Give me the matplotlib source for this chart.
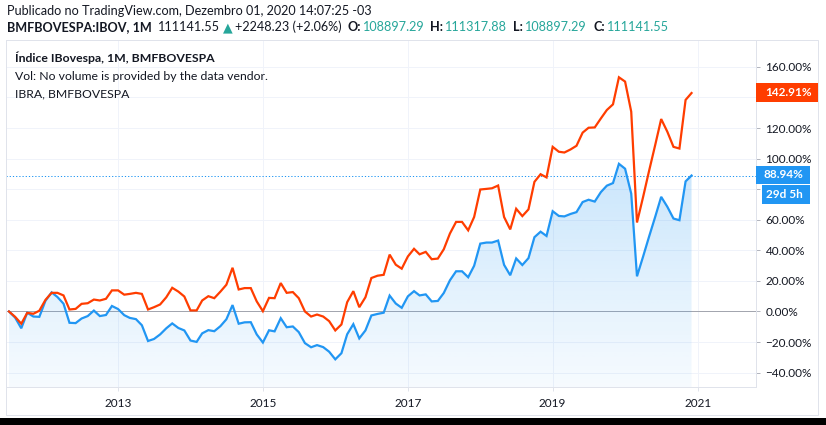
import numpy as np
import pandas as pd
import matplotlib
matplotlib.use("Agg")
import matplotlib.pyplot as plt
import matplotlib.dates as mdates
from matplotlib.patches import Rectangle

plt.rcParams['font.family'] = ['Lato', 'DejaVu Sans']

# ---------------------------
# Data: monthly % change vs. Jul 2011 close
# ---------------------------
start_month = '2011-07-01'

ibov_pct = [0.0, -4.0, -11.0, -0.8, -3.3, -3.5,
            7.0, 12.5, 9.5, 5.1, -7.4, -7.6, -4.6, -3.0, 0.6, -3.0, -2.3, 3.6,
            1.6, -2.4, -4.2, -5.0, -9.0, -19.3, -18.0, -15.0, -11.0, -7.8, -10.8, -12.4,
            -19.0, -19.9, -14.3, -12.2, -12.9, -9.6, -5.1, 4.2, -8.0, -7.1, -7.0, -15.0,
            -20.3, -12.3, -13.0, -4.4, -10.3, -9.8, -13.5, -20.7, -23.4, -22.0, -23.3, -26.3,
            -31.3, -27.3, -14.9, -8.3, -17.6, -12.4, -2.6, -1.6, -0.8, 10.4, 5.2, 2.4,
            9.9, 13.3, 10.5, 11.2, 6.6, 6.9, 12.1, 20.4, 26.3, 26.3, 22.4, 29.9,
            44.4, 45.1, 45.1, 46.4, 30.5, 23.7, 34.7, 30.4, 34.9, 48.6, 52.2, 49.4,
            65.6, 62.5, 62.2, 63.8, 65.0, 71.6, 73.1, 71.9, 78.1, 82.3, 84.0, 96.6,
            93.4, 77.1, 23.0, 36.0, 49.0, 62.0, 75.0, 68.5, 60.8, 59.7, 85.1, 88.94]

ibra_pct = [0.0, -3.5, -8.0, -0.9, -1.5, 0.5,
            7.6, 12.2, 12.2, 10.5, 1.3, 1.7, 5.0, 5.4, 7.8, 7.2, 8.3, 13.8,
            13.8, 11.0, 11.5, 12.2, 11.5, 1.3, 2.8, 4.6, 9.3, 15.5, 13.0, 9.8,
            0.7, 0.7, 7.2, 10.0, 8.7, 13.0, 17.5, 28.6, 14.4, 15.3, 15.3, 6.6,
            0.2, 8.9, 8.7, 18.6, 12.2, 12.7, 8.7, 0.0, -3.3, -2.0, -3.3, -6.3,
            -12.4, -8.5, 6.1, 13.3, 2.8, 9.3, 21.9, 23.4, 24.0, 37.2, 30.6, 28.0,
            36.0, 41.0, 37.4, 39.0, 34.2, 34.6, 40.7, 51.0, 58.6, 58.6, 53.1, 61.8,
            79.8, 80.2, 80.6, 82.4, 61.8, 53.7, 67.2, 62.4, 66.8, 84.8, 89.8, 87.7,
            107.7, 104.5, 104.0, 106.0, 108.4, 117.0, 120.2, 120.4, 126.3, 131.8, 135.5, 153.2,
            150.4, 130.7, 58.2, 75.0, 92.0, 109.0, 125.9, 117.6, 107.7, 106.6, 138.4, 142.91]

ytick_vals = [-40, -20, 0, 20, 40, 60, 80, 100, 120, 140, 160]
hidden_ticks = [80, 140]   # covered by the last-value boxes in the reference
xtick_years = [2013, 2015, 2017, 2019, 2021]

header1 = "Publicado no TradingView.com, Dezembro 01, 2020 14:07:25 -03"
header2 = [("BMFBOVESPA:IBOV, 1M", "bold", "#131722", 6),
           ("111141.55", "normal", "#131722", 3),
           ("\u25B2", "normal", "#26a69a", 3),
           ("+2248.23 (+2.06%)", "normal", "#131722", 5),
           ("O:", "bold", "#131722", 2),
           ("108897.29", "normal", "#26a69a", 6),
           ("H:", "bold", "#131722", 2),
           ("111317.88", "normal", "#26a69a", 6),
           ("L:", "bold", "#131722", 2),
           ("108897.29", "normal", "#26a69a", 6),
           ("C:", "bold", "#131722", 2),
           ("111141.55", "normal", "#26a69a", 0)]
legend_lines = [("\u00CDndice IBovespa, 1M, BMFBOVESPA", "bold"),
                ("Vol: No volume is provided by the data vendor.", "normal"),
                ("IBRA, BMFBOVESPA", "normal")]

dates = pd.date_range(start_month, periods=len(ibov_pct), freq='MS')
ibov = np.array(ibov_pct)
ibra = np.array(ibra_pct)

# ---------------------------
# Layout (pixel based)
# ---------------------------
W, H = 826, 425
BLUE = '#2196f3'
RED = '#ff3d00'
GRID = '#f0f3fa'
BORDER = '#e0e3eb'
TXT = '#131722'
PX = 0.72  # one pixel in points

fig = plt.figure(figsize=(W / 100, H / 100), dpi=100)
fig.patch.set_facecolor('white')

def fx(x):
    return x / W

def fy(y):
    return 1 - y / H

ax = fig.add_axes([fx(6), fy(387), (756 - 6) / W, (387 - 40) / H])
ax.set_facecolor('white')

y_top, y_bot = 177.6, -49.4
x_left, x_right = pd.Timestamp('2011-06-16'), pd.Timestamp('2021-10-22')

# grid
for v in ytick_vals:
    ax.axhline(v, color=GRID, lw=PX, zorder=0)
for yr in xtick_years:
    ax.axvline(pd.Timestamp(f'{yr}-01-01'), color=GRID, lw=PX, zorder=0)
ax.axhline(0, color='#a3a6af', lw=PX, zorder=1)

# gradient area under IBOV
poly = ax.fill_between(dates, ibov, y_bot, facecolor='none', edgecolor='none')
grad = np.zeros((256, 1, 4))
grad[..., 0] = 33 / 255
grad[..., 1] = 150 / 255
grad[..., 2] = 243 / 255
grad[:, 0, 3] = np.linspace(0.04, 0.24, 256)
im = ax.imshow(grad, aspect='auto', origin='lower',
               extent=[mdates.date2num(dates[0]), mdates.date2num(dates[-1]), y_bot, ibov.max()],
               zorder=1)
im.set_clip_path(poly.get_paths()[0], transform=ax.transData)

ax.axhline(ibov[-1], color=BLUE, lw=PX, ls=(0, (1.2, 2)), zorder=2)
ax.plot(dates, ibov, color=BLUE, lw=1.6, zorder=3, solid_joinstyle='miter')
ax.plot(dates, ibra, color=RED, lw=1.6, zorder=4, solid_joinstyle='miter')

ax.set_xlim(x_left, x_right)
ax.set_ylim(y_bot, y_top)

for s in ax.spines.values():
    s.set_color(BORDER)
    s.set_linewidth(PX)

ax.yaxis.tick_right()
ax.set_yticks(ytick_vals)
ax.set_yticklabels(["" if v in hidden_ticks else f"{v:.2f}%".replace('-', '\u2212')
                    for v in ytick_vals])
ax.tick_params(axis='y', direction='out', length=4 * PX, width=PX, color='#b2b5be',
               pad=4, labelsize=8.5, labelcolor=TXT)
ax.set_xticks([pd.Timestamp(f'{yr}-01-01') for yr in xtick_years])
ax.set_xticklabels([str(yr) for yr in xtick_years])
ax.tick_params(axis='x', direction='out', length=4 * PX, width=PX, color=BORDER,
               pad=5, labelsize=8.5, labelcolor=TXT)

# outer frame + bottom black strip
fig.add_artist(Rectangle((fx(6), fy(415)), (818 - 6) / W, (415 - 40) / H, transform=fig.transFigure,
                         facecolor='none', edgecolor=BORDER, lw=PX, zorder=1))
fig.add_artist(Rectangle((0, 0), 1, 7 / H, transform=fig.transFigure,
                         facecolor='black', edgecolor='none', zorder=10))

# last-value labels on the right scale
def price_box(x0, x1, y0, y1, color, text, tx):
    fig.add_artist(Rectangle((fx(x0), fy(y1)), (x1 - x0) / W, (y1 - y0) / H,
                             transform=fig.transFigure, facecolor=color, edgecolor='none', zorder=5))
    fig.text(fx(tx), fy((y0 + y1) / 2), text, color='white', fontsize=8.5, fontweight='bold',
             ha='left', va='center', zorder=6)

price_box(756, 818, 83, 102, RED, f"{ibra[-1]:.2f}%", 765)
price_box(756, 810, 166, 184, BLUE, f"{ibov[-1]:.2f}%", 764)
price_box(762, 810, 185, 204, BLUE, "29d 5h", 766)

# header texts
fig.text(fx(7), fy(11), header1, fontsize=9.1, color=TXT, ha='left', va='center')
renderer = fig.canvas.get_renderer()
xpos = 7
for txt, weight, col, gap in header2:
    t = fig.text(fx(xpos), fy(27), txt, fontsize=9.1, fontweight=weight, color=col,
                 ha='left', va='center')
    bb = t.get_window_extent(renderer)
    xpos = bb.x1 + gap

for k, (txt, weight) in enumerate(legend_lines):
    fig.text(fx(15), fy(58 + 18 * k), txt, fontsize=8.8, fontweight=weight, color=TXT,
             ha='left', va='center', zorder=6)

fig.savefig('out.png', dpi=100)
